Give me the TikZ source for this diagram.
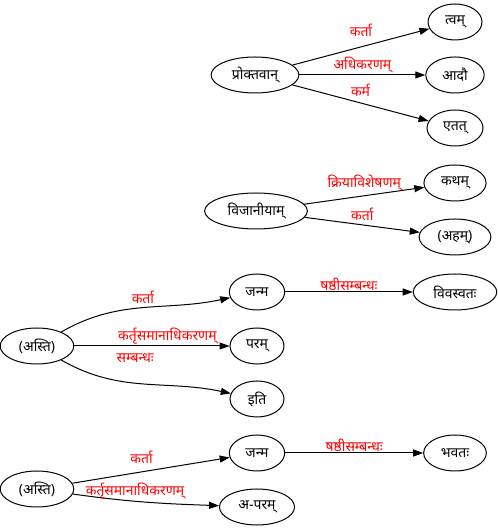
\documentclass[tikz,border=0pt]{standalone}
\usepackage{fontspec}
\newfontfamily\deva[Script=Devanagari]{Noto Sans}
\usetikzlibrary{positioning}
\usetikzlibrary{arrows.meta,shapes}
\tikzstyle{word}=[ellipse,draw,line width=1bp,minimum width=54bp,minimum height=36bp,inner xsep=8bp,inner ysep=4bp,font=\deva\fontsize{14}{16}\selectfont]
\tikzstyle{edge} = [draw,line width=1bp,-{Triangle[length=10bp,width=7bp]}]
\tikzstyle{rel} = [font=\deva\fontsize{14}{16}\selectfont,text=red,inner sep=1bp]

\begin{document}
\begin{tikzpicture}[x=1bp,y=1bp]
    \useasboundingbox (0,0) rectangle (498,530);

    \foreach \pos/\name/\txt in {{(255,455)/proktavan/प्रोक्तवान्}, {(455,508)/tvam/त्वम्}, {(455,455)/adau/आदौ}, {(455,402)/etat/एतत्},
                                 {(256,319)/vijaniyam/विजानीयाम्}, {(455,347)/katham/कथम्}, {(455,293)/aham/(अहम्)},
                                 {(37,184)/astiA/(अस्ति)}, {(257,238)/janmaA/जन्म}, {(257,184)/param/परम्}, {(257,131)/iti/इति}, {(455,238)/vivasvatah/विवस्वतः},
                                 {(37,41)/astiB/(अस्ति)}, {(257,77)/janmaB/जन्म}, {(257,23)/aparam/अ-परम्}, {(455,77)/bhavatah/भवतः}}
        \node[word] (\name) at \pos {\txt};

    \foreach \source/\dest/\relname/\gap in {proktavan/tvam/कर्ता/9, proktavan/adau/अधिकरणम्/0, proktavan/etat/कर्म/5,
                                             vijaniyam/katham/क्रियाविशेषणम्/3, vijaniyam/aham/कर्ता/3,
                                             janmaA/vivasvatah/षष्ठीसम्बन्धः/0, janmaB/bhavatah/षष्ठीसम्बन्धः/0}
        \path[edge] (\source) -- node[rel, above=\gap bp] {\relname} (\dest);

    \path[edge] (astiA) to[out=30,in=192] node[rel, above=2bp] {कर्ता} (janmaA);
    \path[edge] (astiA) -- node[rel, above=0bp, pos=0.6] {कर्तृसमानाधिकरणम्} (param);
    \path[edge] (astiA) to[out=-30,in=168] node[rel, above=19bp, pos=0.45] {सम्बन्धः} (iti);
    \path[edge] (astiB) -- node[rel, above=7bp, pos=0.44] {कर्ता} (janmaB);
    \path[edge] (astiB) to[out=-8,in=178] node[rel, above=0bp, pos=0.42] {कर्तृसमानाधिकरणम्} (aparam);

\end{tikzpicture}
\end{document}
